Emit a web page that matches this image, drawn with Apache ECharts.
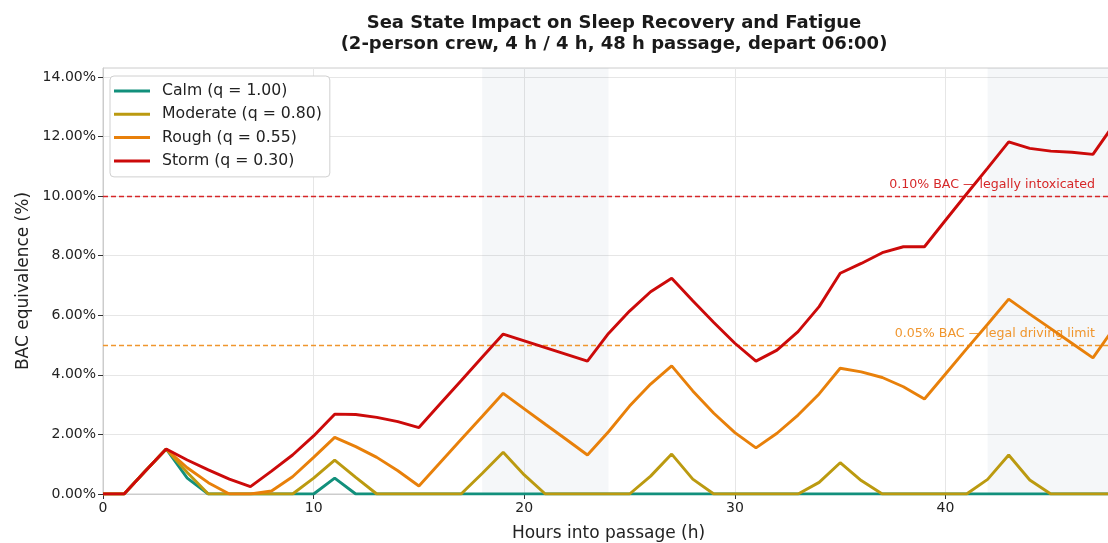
<!DOCTYPE html>
<html>
<head>
<meta charset="utf-8">
<script src="https://cdn.jsdelivr.net/npm/echarts@6/dist/echarts.min.js"></script>
<style>html,body{margin:0;padding:0;background:#fff}#c{width:1108px;height:543px}</style>
</head>
<body>
<div id="c"></div>
<script>
const hours = Array.from({length: 49}, (_, i) => i);
const calm = [0,0,0.76,1.51,0.53,0,0,0,0,0,0,0.53,0,0,0,0,0,0,0,0,0,0,0,0,0,0,0,0,0,0,0,0,0,0,0,0,0,0,0,0,0,0,0,0,0,0,0,0,0];
const moderate = [0,0,0.76,1.51,0.72,0,0,0,0,0,0.53,1.14,0.56,0,0,0,0,0,0.69,1.40,0.64,0,0,0,0,0,0.60,1.34,0.50,0,0,0,0,0,0.39,1.05,0.45,0,0,0,0,0,0.49,1.31,0.47,0,0,0,0];
const rough = [0,0,0.76,1.51,0.88,0.38,0,0,0.10,0.58,1.23,1.90,1.59,1.23,0.78,0.27,1.05,1.83,2.60,3.38,2.86,2.34,1.83,1.31,2.09,2.95,3.69,4.30,3.46,2.71,2.06,1.55,2.04,2.65,3.36,4.22,4.10,3.91,3.60,3.19,4.03,4.87,5.70,6.54,6.04,5.55,5.06,4.57,5.57];
const storm = [0,0,0.76,1.51,1.14,0.81,0.50,0.25,0.77,1.31,1.95,2.68,2.67,2.57,2.43,2.23,3.02,3.80,4.59,5.37,5.14,4.91,4.69,4.46,5.39,6.14,6.79,7.24,6.49,5.76,5.06,4.46,4.83,5.45,6.29,7.41,7.74,8.10,8.30,8.30,9.19,10.07,10.94,11.82,11.60,11.51,11.47,11.40,12.41];
const seriesNames = ['Calm (q = 1.00)','Moderate (q = 0.80)','Rough (q = 0.55)','Storm (q = 0.30)'];
const seriesColors = ['#12907c','#bb9a10','#e8800a','#cc0a0a'];
const nightBands = [[18,24],[42,48]];
const thresholds = [10, 5];
const thresholdLabels = ['0.10% BAC — legally intoxicated','0.05% BAC — legal driving limit'];
const thresholdColors = ['#d62728','#f0962e'];
const xTicks = [0,10,20,30,40];
const yTicks = [0,2,4,6,8,10,12,14];

const FONT = 'DejaVu Sans';
const values = [calm, moderate, rough, storm];
const series = values.map((v, i) => ({
  name: seriesNames[i],
  type: 'line',
  data: hours.map((h, j) => [h, v[j]]),
  showSymbol: false,
  symbol: 'none',
  color: seriesColors[i],
  lineStyle: {width: 2.9, color: seriesColors[i]},
  z: 3 + i
}));
series.push({
  name: 'refs',
  type: 'line',
  data: [],
  silent: true,
  markArea: {
    silent: true,
    itemStyle: {color: 'rgba(110,130,160,0.065)'},
    data: nightBands.map(b => [{xAxis: b[0]}, {xAxis: b[1]}])
  },
  markLine: {
    silent: true,
    symbol: 'none',
    data: thresholds.map((t, i) => ({
      yAxis: t,
      lineStyle: {color: thresholdColors[i], type: [5, 3], width: 1.3},
      label: {
        show: true, position: 'insideEndTop', formatter: thresholdLabels[i],
        color: thresholdColors[i], fontFamily: FONT, fontSize: 12.6, distance: [19, 5]
      }
    }))
  }
});

const chart = echarts.init(document.getElementById('c'));
chart.setOption({
  animation: false,
  backgroundColor: '#fff',
  title: {
    text: 'Sea State Impact on Sleep Recovery and Fatigue\n(2-person crew, 4 h / 4 h, 48 h passage, depart 06:00)',
    left: 609, top: 8, textAlign: 'center',
    textStyle: {fontFamily: FONT, fontSize: 18, fontWeight: 'bold', color: '#1a1a1a', lineHeight: 21}
  },
  legend: {
    data: seriesNames,
    orient: 'vertical',
    left: 110, top: 76,
    padding: [7, 8, 8, 4],
    itemGap: 7.3,
    itemWidth: 36, itemHeight: 3,
    icon: 'rect',
    backgroundColor: '#fff',
    borderColor: '#d0d0d0', borderWidth: 1, borderRadius: 4,
    textStyle: {fontFamily: FONT, fontSize: 15.7, color: '#222', padding: [0, 0, 0, 7]}
  },
  grid: {left: 103, right: -6, top: 68, bottom: 49, show: true, borderColor: '#cccccc', borderWidth: 1,
    containLabel: false, outerBoundsMode: 'none'},
  xAxis: {
    type: 'value', min: 0, max: 48, interval: 10,
    name: 'Hours into passage (h)', nameLocation: 'middle', nameGap: 31,
    nameTextStyle: {fontFamily: FONT, fontSize: 17, color: '#222'},
    axisLine: {show: true, lineStyle: {color: '#cccccc'}},
    axisTick: {show: true, length: 5, lineStyle: {color: '#333'}, customValues: xTicks},
    axisLabel: {fontFamily: FONT, fontSize: 14, color: '#222', margin: 7, customValues: xTicks,
      formatter: v => String(v)},
    splitLine: {show: true, lineStyle: {color: '#e6e6e6', width: 1}}
  },
  yAxis: {
    type: 'value', min: 0, max: 14.3, interval: 2,
    name: 'BAC equivalence (%)', nameLocation: 'middle', nameGap: 70,
    nameTextStyle: {fontFamily: FONT, fontSize: 17, color: '#222'},
    axisLine: {show: true, lineStyle: {color: '#cccccc'}},
    axisTick: {show: true, length: 5, lineStyle: {color: '#333'}, customValues: yTicks},
    axisLabel: {fontFamily: FONT, fontSize: 14, color: '#222', margin: 7, customValues: yTicks,
      formatter: v => Number(v).toFixed(2) + '%'},
    splitLine: {show: true, lineStyle: {color: '#e6e6e6', width: 1}}
  },
  series: series
});
</script>
</body>
</html>
